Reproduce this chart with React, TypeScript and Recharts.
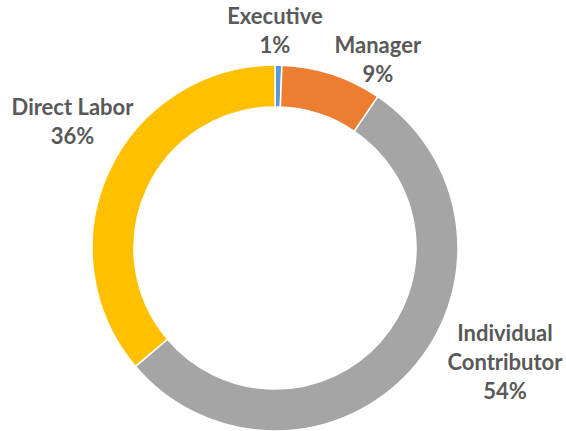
import { Cell, Pie, PieChart } from "recharts";

const categories = ["Executive", "Manager", "Individual Contributor", "Direct Labor"];
const shares = [0.6, 8.9, 54.3, 36.2];
const sliceColors = ["#5B9BD5", "#ED7D31", "#A5A5A5", "#FFC000"];

// label nudges (px) from the radial anchor, to sit the text where the original puts it
const labelNudges = [[-4, -6], [37, 12], [73, -27], [-11, -37]];

const chartData = categories.map((name, i) => ({ name, value: shares[i] }));

const RADIAN = Math.PI / 180;
const LINE_HEIGHT = 29;

const renderLabel = (props: { cx: number, cy: number, midAngle: number, outerRadius: number, index: number, payload: { name: string, value: number } }) => {
  const { cx, cy, midAngle, outerRadius, index, payload } = props;
  const r = outerRadius + 28;
  const x = cx + r * Math.cos(-RADIAN * midAngle) + labelNudges[index][0];
  const y = cy + r * Math.sin(-RADIAN * midAngle) + labelNudges[index][1];
  const nameLines = payload.name.length > 14 ? payload.name.split(" ") : [payload.name];
  const lines = [...nameLines, `${Math.round(payload.value)}%`];
  const firstBaseline = y - ((lines.length - 1) * LINE_HEIGHT) / 2 + 7.5;
  return (
    <text
      x={x}
      y={firstBaseline}
      textAnchor="middle"
      fill="#595959"
      style={{ fontFamily: "Lato, 'Open Sans', sans-serif", fontWeight: 700, fontSize: 22 }}
    >
      {lines.map((line, i) => (
        <tspan key={i} x={x} y={firstBaseline + i * LINE_HEIGHT}>{line}</tspan>
      ))}
    </text>
  );
};

const App = () => {
  return (
    <div style={{ position: "absolute", left: 0, top: 0, width: 566, height: 431, background: "#fff" }}>
      <PieChart width={566} height={431} margin={{ top: 0, right: 0, bottom: 0, left: 0 }}>
        <Pie
          data={chartData}
          dataKey="value"
          nameKey="name"
          cx={275}
          cy={248}
          innerRadius={141}
          outerRadius={183}
          startAngle={90}
          endAngle={-270}
          stroke="#fff"
          strokeWidth={1.5}
          label={renderLabel}
          labelLine={false}
          isAnimationActive={false}
        >
          {chartData.map((entry, index) => (
            <Cell key={`cell-${index}`} fill={sliceColors[index]} />
          ))}
        </Pie>
      </PieChart>
    </div>
  );
};

export default App;
